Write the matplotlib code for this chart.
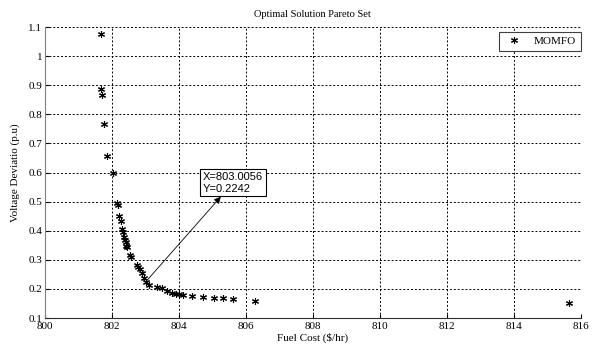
import matplotlib
matplotlib.use("Agg")
import matplotlib.pyplot as plt

plt.rcParams['font.family'] = ['Liberation Serif', 'DejaVu Serif']

# Pareto front points
fuel_cost = [801.67, 801.68, 801.70, 801.76, 801.86, 802.02, 802.16, 802.18,
             802.22, 802.27, 802.29, 802.34, 802.37, 802.39, 802.41, 802.42,
             802.44, 802.54, 802.56, 802.74, 802.79, 802.84, 802.89, 802.96,
             803.0056, 803.11, 803.33, 803.48, 803.63, 803.78, 803.91, 804.01,
             804.11, 804.38, 804.71, 805.04, 805.30, 805.60, 806.27, 815.64]
voltage_dev = [1.075, 0.887, 0.868, 0.768, 0.658, 0.597, 0.496, 0.488,
               0.450, 0.433, 0.407, 0.397, 0.377, 0.368, 0.360, 0.347,
               0.343, 0.315, 0.311, 0.281, 0.274, 0.267, 0.253, 0.236,
               0.2242, 0.214, 0.208, 0.202, 0.194, 0.187, 0.183, 0.181,
               0.178, 0.176, 0.172, 0.169, 0.169, 0.166, 0.160, 0.152]
xticks = [800, 802, 804, 806, 808, 810, 812, 814, 816]
yticks = [0.1, 0.2, 0.3, 0.4, 0.5, 0.6, 0.7, 0.8, 0.9, 1, 1.1]
ytick_labels = ["0.1", "0.2", "0.3", "0.4", "0.5", "0.6", "0.7", "0.8", "0.9", "1", "1.1"]
pick_x, pick_y = 803.0056, 0.2242

fig = plt.figure(figsize=(5.94, 3.51), dpi=100)
ax = fig.add_axes([0.0758, 0.094, 0.902, 0.829])
ax.plot(fuel_cost, voltage_dev, linestyle='none', marker=(6, 2, 0),
        markersize=5, color='black', markeredgewidth=0.8, label='MOMFO')

ax.set_xlim(800, 816)
ax.set_ylim(0.1, 1.1)
ax.set_xticks(xticks)
ax.set_yticks(yticks)
ax.set_yticklabels(ytick_labels)
ax.tick_params(direction='in', length=3, labelsize=8, pad=2)
ax.tick_params(axis='x', pad=3)
ax.grid(True, linestyle=(0, (2, 2)), color='black', linewidth=0.7)
for s in ['top', 'right']:
    ax.spines[s].set_visible(False)
ax.spines['left'].set_color('#808080')
ax.spines['bottom'].set_color('#303030')

ax.set_title("Optimal Solution Pareto Set", fontsize=7.5, pad=7)
ax.set_xlabel("Fuel Cost (\\$/hr)", fontsize=8, labelpad=1)
ax.set_ylabel("Voltage Deviatio (p.u)", fontsize=8, labelpad=6)

ax.annotate("X=803.0056\nY=0.2242", xy=(pick_x, pick_y), xytext=(804.72, 0.565),
            ha='left', va='center',
            fontsize=8, family=['Liberation Sans', 'DejaVu Sans'],
            bbox=dict(boxstyle='square,pad=0.25', fc='white', ec='black', lw=0.8),
            arrowprops=dict(arrowstyle='<|-', color='black', lw=0.6, mutation_scale=10,
                            shrinkA=0, shrinkB=2))

leg = ax.legend(loc='upper right', fontsize=8, fancybox=False, framealpha=1,
                borderaxespad=0, handlelength=2.0, bbox_to_anchor=(1.0, 0.983))
leg.get_frame().set_edgecolor('#404040')
leg.get_frame().set_linewidth(0.8)

fig.savefig("out.png", dpi=100)
